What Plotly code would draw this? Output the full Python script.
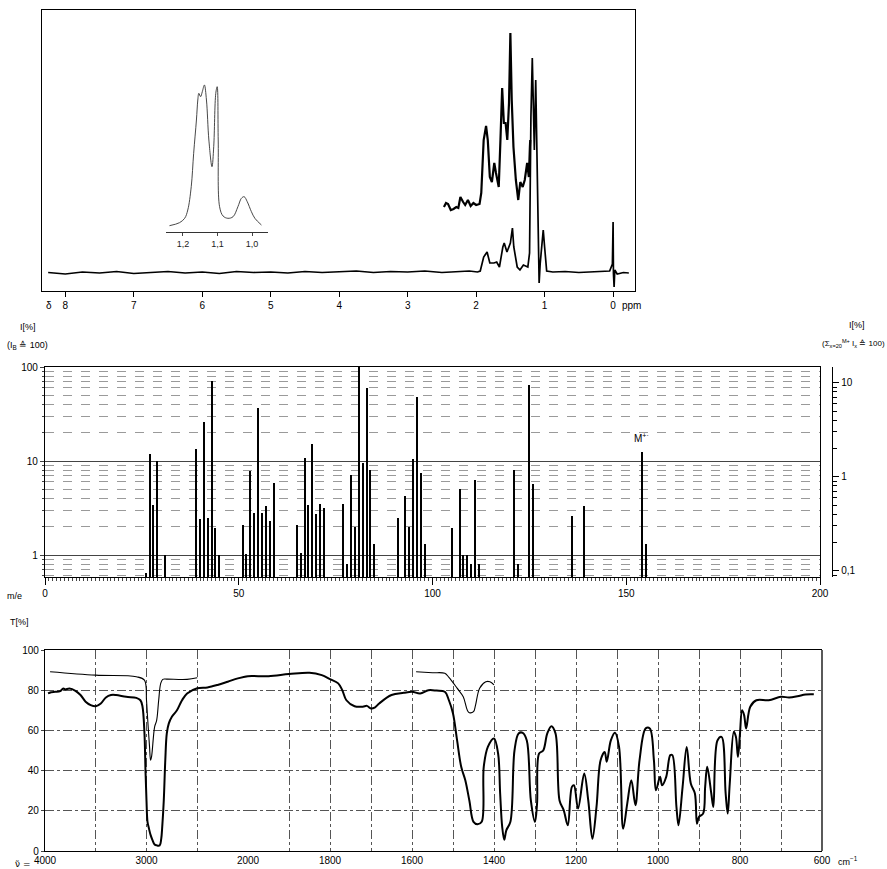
import plotly.graph_objects as go

W, H = 887, 869
def px(x): return x / W
def py(y): return 1 - y / H

FONT = "Liberation Sans, Arial, sans-serif"

# ---------------- 1H-NMR ----------------
nmr_ppm = [8.25, 8.0, 7.75, 7.5, 7.25, 7.0, 6.75, 6.5, 6.25, 6.0, 5.75, 5.5, 5.25, 5.0, 4.75, 4.5,
           4.25, 4.0, 3.75, 3.5, 3.25, 3.0, 2.75, 2.5, 2.25, 2.1, 1.98,
           1.94, 1.89, 1.84, 1.80, 1.74, 1.70, 1.66, 1.61, 1.59, 1.55, 1.50, 1.47, 1.45, 1.40, 1.36,
           1.31, 1.245, 1.22, 1.20, 1.18, 1.16, 1.15, 1.13, 1.11, 1.095, 1.08, 1.065, 1.04, 1.02,
           1.00, 0.97, 0.88, 0.7, 0.5, 0.39, 0.2, 0.05, 0.01, 0.0, -0.005, -0.015, -0.025, -0.06,
           -0.15, -0.23]
nmr_int = [0.5, -1.0, 1.0, 0.0, 1.5, -0.5, 0.5, 1.5, 0.0, 1.0, -0.5, 1.5, 0.5, 1.0, 0.0, 1.5,
           0.5, 1.0, 2.0, 0.5, 1.5, 1.0, 2.0, 0.5, 1.5, 2.0, 1.0,
           2, 16, 21, 10, 10, 11, 6, 26, 30, 21, 30, 45, 26, 6, 3,
           8, 6, 20, 156, 215, 156, 123, 193, 106, 13, -10, 9, 33, 43,
           26, 2, 1, 1.5, 0.5, 1, 1.5, 2, 9, 51, 0, -14, 3, -1,
           0.5, 0]

nmr_up_ppm = [2.47, 2.44, 2.41, 2.37, 2.33, 2.29, 2.26, 2.23, 2.19, 2.16, 2.12, 2.08, 2.04, 2.0,
              1.95, 1.925, 1.89, 1.855, 1.83, 1.80, 1.77, 1.735, 1.71, 1.67, 1.645, 1.62, 1.595,
              1.57, 1.545, 1.52, 1.50, 1.48, 1.455, 1.42, 1.385, 1.355, 1.32, 1.29, 1.255, 1.23,
              1.215, 1.21]
nmr_up_int = [66, 70, 69, 63, 64, 66, 65, 76, 71, 68, 73, 67, 70, 68,
              69, 80, 133, 147, 133, 96, 91, 110, 100, 86, 133, 185, 150,
              150, 133, 170, 240, 173, 126, 93, 73, 91, 86, 93, 110, 96,
              126, 133]

# inset (expanded 1.0-1.25 ppm region)
ins_ppm = [1.239, 1.210, 1.195, 1.186, 1.176, 1.169, 1.161, 1.157, 1.154, 1.149, 1.144, 1.138,
           1.132, 1.125, 1.116, 1.111, 1.105, 1.101, 1.098, 1.094, 1.084, 1.070, 1.055, 1.041,
           1.031, 1.023, 1.014, 1.002, 0.992, 0.973]
ins_int = [6.3, 9.3, 13.7, 22, 45.3, 78.7, 112, 132, 138.7, 135.3, 140.3, 147,
           132, 92, 65.3, 85.3, 138.7, 145.3, 92, 25.3, 16, 13.7, 15.3, 25.3,
           33.7, 35.3, 30.3, 20.3, 13.7, 7]

nmr_ticks = [8, 7, 6, 5, 4, 3, 2, 1, 0]
ins_ticks = [1.2, 1.1, 1.0]
ins_ticktext = ["1,2", "1,1", "1,0"]

# ---------------- Mass spectrum ----------------
ms_mz = [26, 27, 28, 29, 31, 39, 40, 41, 42, 43, 44, 45, 51, 52, 53, 54, 55, 56, 57, 58, 59,
         65, 66, 67, 68, 69, 70, 71, 72, 77, 78, 79, 80, 81, 82, 83, 84, 85,
         91, 93, 94, 95, 96, 97, 98, 105, 107, 108, 109, 110, 111, 112,
         121, 122, 125, 126, 136, 139, 154, 155]
ms_int = [0.65, 11.9, 3.4, 10.0, 1.0, 13.4, 2.4, 26, 2.5, 71, 1.95, 1.0, 2.1, 1.03, 7.9, 2.8, 37, 2.8, 3.3, 2.3, 5.9,
          2.1, 1.05, 10.8, 3.4, 15, 2.7, 3.5, 3.2, 3.5, 0.8, 7.1, 2.0, 100, 9.5, 60, 8.0, 1.3,
          2.45, 4.2, 2.0, 10.5, 48, 7.5, 1.3, 1.95, 5.0, 1.0, 1.0, 0.8, 6.3, 0.8,
          8.0, 0.8, 64, 5.7, 2.6, 3.3, 12.5, 1.3]
ms_xticks = [0, 50, 100, 150, 200]
ms_left_ticks = [1, 10, 100]
ms_right_ticks = [0.1, 1, 10]
ms_right_text = ["0,1", "1", "10"]
ms_ratio_log = 0.8325  # log10 of (base-peak % / total-ion %)

# ---------------- IR spectrum ----------------
ir_wn = [3970, 3940, 3900, 3850, 3820, 3800, 3760, 3700, 3650, 3600, 3550, 3500, 3450, 3400,
         3350, 3300, 3200, 3100, 3060, 3040, 3020, 3010, 3000, 2990, 2975, 2960, 2940, 2920,
         2900, 2870, 2855, 2845, 2830, 2815, 2800, 2780, 2750, 2700, 2650, 2600, 2500, 2400,
         2300, 2200, 2100, 2000,
         1950, 1900, 1850, 1820, 1800, 1780, 1770, 1760, 1740, 1720, 1710, 1700, 1690, 1680,
         1650, 1620, 1600, 1580, 1560, 1540, 1520, 1510, 1500, 1490, 1480, 1470, 1460, 1450,
         1440, 1430, 1425, 1415, 1400, 1390, 1385, 1380, 1375, 1370, 1360, 1350, 1340, 1330,
         1320, 1310, 1300, 1295, 1290, 1280, 1270, 1260, 1250, 1240, 1230, 1220, 1210, 1205,
         1195, 1180, 1170, 1160, 1150, 1140, 1130, 1125, 1115, 1105, 1095, 1085, 1075, 1065,
         1055, 1045, 1030, 1020, 1010, 1005, 995, 990, 980, 970, 965, 955, 950, 940, 930, 920,
         910, 905, 900, 890, 885, 880, 870, 865, 855, 845, 835, 830, 825, 815, 810, 805, 800,
         795, 790, 785, 775, 760, 730, 700, 680, 660, 640, 620]
ir_t = [78.4, 79.0, 79.2, 79.5, 80.9, 80.4, 80.8, 79.7, 77.6, 74.3, 72.6, 72.0, 73.4, 76.4,
        77.6, 77.6, 76.7, 76.2, 75.0, 72.0, 58.5, 40.0, 25.0, 14.5, 11.0, 8.0, 5.3, 3.2,
        2.8, 2.8, 6.0, 12.0, 25.0, 45.0, 58.5, 63.5, 66.8, 70.0, 75.0, 78.4, 81.0, 81.4,
        82.6, 84.2, 85.9, 87.0,
        87.0, 88.0, 88.7, 87.5, 85.5, 83.4, 80.0, 75.0, 72.0, 71.8, 72.2, 70.9, 71.5, 73.4,
        77.6, 78.7, 79.2, 78.4, 80.0, 79.8, 79.2, 75.0, 68.4, 55.0, 41.9, 35.2, 25.0, 14.5,
        13.3, 14.5, 41.9, 51.8, 56.0, 48.5, 28.6, 12.0, 5.6, 10.3, 14.5, 50.0, 58.5, 58.8,
        55.0, 25.0, 14.5, 23.6, 48.5, 50.0, 58.5, 62.1, 58.5, 25.0, 20.3, 12.8, 31.9, 32.7,
        21.1, 38.5, 25.0, 6.1, 21.9, 45.2, 49.3, 44.4, 55.0, 58.8, 51.8, 11.1, 23.6, 35.2,
        22.8, 45.2, 61.0, 61.0, 45.2, 30.2, 36.9, 32.7, 36.9, 47.7, 47.7, 21.9, 12.8, 31.9, 51.8, 33.6,
        28.6, 13.6, 17.0, 18.6, 31.9, 41.9, 28.6, 21.9, 55.0, 56.8, 28.6, 18.6, 33.6, 59.3, 56.8, 46.8, 58.5,
        70.0, 67.6, 61.0, 71.8, 75.0, 75.0, 76.7, 76.4, 77.0, 77.9, 78.0]

ir2_wn = [3950, 3500, 3100, 3020, 3000, 2990, 2970, 2960, 2950, 2920, 2900, 2880, 2860, 2840,
          2800, 2600, 2500, None,
          1590, 1550, 1520, 1510, 1490, 1475, 1465, 1460, 1450, 1445, 1435, 1420, 1410, 1400]
ir2_t = [89.2, 87.5, 86.7, 85.0, 75.0, 66.8, 51.8, 45.2, 47.0, 61.8, 65.0, 75.0, 83.4, 85.4,
         85.5, 85.4, 86.2, None,
         89.2, 88.7, 88.4, 86.4, 81.0, 76.7, 70.0, 68.8, 69.3, 72.6, 81.0, 84.2, 84.2, 82.6]

ir_hi_ticks = [4000, 3000, 2000]
ir_lo_ticks = [1800, 1600, 1400, 1200, 1000, 800, 600]

# ---------------- figure ----------------
fig = go.Figure()
BL = "black"
fig.add_trace(go.Scatter(x=nmr_ppm, y=nmr_int, mode="lines", line=dict(color=BL, width=1.7),
                         xaxis="x", yaxis="y", showlegend=False))
fig.add_trace(go.Scatter(x=nmr_up_ppm, y=nmr_up_int, mode="lines", line=dict(color=BL, width=2.2),
                         xaxis="x", yaxis="y", showlegend=False))
fig.add_trace(go.Scatter(x=ins_ppm, y=ins_int, mode="lines", line=dict(color="#333", width=0.9),
                         line_shape="spline", xaxis="x2", yaxis="y2", showlegend=False))
fig.add_trace(go.Bar(x=ms_mz, y=ms_int, width=0.32, marker=dict(color=BL, line=dict(width=0)),
                     xaxis="x3", yaxis="y3", showlegend=False))
fig.add_trace(go.Scatter(x=[None], y=[None], xaxis="x3", yaxis="y4", showlegend=False))
for xa in ("x4", "x5"):
    fig.add_trace(go.Scatter(x=ir_wn, y=ir_t, mode="lines", line=dict(color=BL, width=2),
                             line_shape="spline", xaxis=xa, yaxis="y5", showlegend=False))
    fig.add_trace(go.Scatter(x=ir2_wn, y=ir2_t, mode="lines", line=dict(color=BL, width=1.1),
                             line_shape="spline", xaxis=xa, yaxis="y5", showlegend=False,
                             connectgaps=False))

tf = dict(family=FONT, size=10, color=BL)
grid_ir = dict(showgrid=True, gridcolor="#555", gridwidth=1, griddash="dashdot")

fig.update_layout(
    width=W, height=H, margin=dict(l=0, r=0, t=0, b=0, autoexpand=False),
    paper_bgcolor="white", plot_bgcolor="white", font=tf, bargap=0,
    xaxis=dict(domain=[px(42), px(635)], anchor="y", range=[8.34, -0.32], automargin=False,
               tickmode="array", tickvals=nmr_ticks, ticktext=[str(t) for t in nmr_ticks],
               ticks="outside", ticklen=5, tickcolor=BL, showline=True, mirror=True,
               linecolor=BL, linewidth=1.3, showgrid=False, zeroline=False, tickfont=tf),
    yaxis=dict(domain=[py(291), py(10)], anchor="x", range=[-18, 263], showticklabels=False,
               automargin=False, ticks="", showline=True, mirror=True, linecolor=BL,
               linewidth=1.3, showgrid=False, zeroline=False),
    xaxis2=dict(domain=[px(166), px(268)], anchor="y2", range=[1.249, 0.954], automargin=False,
                tickmode="array", tickvals=ins_ticks, ticktext=ins_ticktext,
                ticks="outside", ticklen=3, showline=True, linecolor="#333", linewidth=1,
                showgrid=False, zeroline=False, tickfont=dict(family=FONT, size=9, color="#222")),
    yaxis2=dict(domain=[py(232), py(80)], anchor="x2", range=[0, 152], visible=False,
                automargin=False),
    xaxis3=dict(domain=[px(45), px(820)], anchor="y3", range=[0, 200], automargin=False,
                tickmode="array", tickvals=ms_xticks, ticktext=[str(v) for v in ms_xticks],
                ticks="outside", ticklen=7, tickcolor=BL,
                minor=dict(dtick=1, tick0=0, ticks="outside", ticklen=3, tickcolor="#444"),
                showline=True, mirror=True, linecolor=BL, linewidth=1.3,
                showgrid=False, zeroline=False, tickfont=tf),
    yaxis3=dict(domain=[py(577), py(367)], anchor="x3", type="log", range=[-0.234, 2.0],
                automargin=False,
                tickmode="array", tickvals=ms_left_ticks, ticktext=[str(v) for v in ms_left_ticks],
                ticks="outside", ticklen=4, showline=True, mirror=True, linecolor=BL,
                linewidth=1.3, showgrid=True, gridcolor="#444", gridwidth=1,
                minor=dict(dtick="D1", ticks="outside", ticklen=2, showgrid=True,
                           gridcolor="#9a9a9a", griddash="dash", gridwidth=1),
                zeroline=False, tickfont=tf),
    yaxis4=dict(overlaying="y3", side="right", anchor="free", position=px(832), type="log",
                range=[-0.234 - ms_ratio_log, 2.0 - ms_ratio_log], automargin=False,
                tickmode="array", tickvals=ms_right_ticks, ticktext=ms_right_text,
                ticks="outside", ticklen=6, tickcolor=BL,
                minor=dict(dtick="D1", ticks="outside", ticklen=4, tickcolor=BL),
                showline=True, linecolor=BL, linewidth=1.3, showgrid=False, zeroline=False,
                tickfont=tf),
    xaxis4=dict(domain=[px(45), px(248)], anchor="y5", range=[4000, 2000], automargin=False,
                tickmode="array", tickvals=ir_hi_ticks, ticktext=[str(v) for v in ir_hi_ticks],
                ticks="", minor=dict(dtick=500, tick0=0, showgrid=True, gridcolor="#555",
                                     griddash="dashdot", ticks=""),
                showline=True, mirror=True, linecolor=BL, linewidth=1.3, zeroline=False,
                tickfont=tf, **grid_ir),
    xaxis5=dict(domain=[px(248), px(822)], anchor="y5", range=[2000, 600], automargin=False,
                tickmode="array", tickvals=ir_lo_ticks, ticktext=[str(v) for v in ir_lo_ticks],
                ticks="", minor=dict(dtick=100, tick0=0, showgrid=True, gridcolor="#555",
                                     griddash="dashdot", ticks=""),
                showline=True, mirror=True, linecolor=BL, linewidth=1.3, zeroline=False,
                tickfont=tf, **grid_ir),
    yaxis5=dict(domain=[py(851), py(650)], anchor="x4", range=[0, 100], automargin=False,
                tickmode="array", tickvals=[0, 20, 40, 60, 80, 100], ticks="outside", ticklen=3,
                showline=True, linecolor=BL, linewidth=1.3, zeroline=False, tickfont=tf,
                **grid_ir),
)

# right border of IR panel
fig.add_shape(type="line", xref="paper", yref="paper", x0=px(822), x1=px(822),
              y0=py(851), y1=py(650), line=dict(color=BL, width=1.3))

ann = [
    dict(x=px(49), y=py(305), text="δ", xanchor="center"),
    dict(x=px(620), y=py(305), text="ppm", xanchor="left"),
    dict(x=px(28), y=py(327), text="I[%]", xanchor="center", size=9),
    dict(x=px(27), y=py(345), text="(I<sub>B</sub> ≙ 100)", xanchor="center", size=9),
    dict(x=px(857), y=py(325), text="I[%]", xanchor="center", size=9),
    dict(x=px(853), y=py(344), text="(Σ<sub>x=20</sub><sup>M+</sup> I<sub>x</sub> ≙ 100)",
         xanchor="center", size=8),
    dict(x=px(14), y=py(596), text="m/e", xanchor="center", size=9),
    dict(x=px(19), y=py(622), text="T[%]", xanchor="center", size=9),
    dict(x=px(32), y=py(864), text="ν̃ =", xanchor="right", family="DejaVu Sans", size=9),
    dict(x=px(836), y=py(861), text="cm<sup>−1</sup>", xanchor="left", size=9),
]
for a in ann:
    fig.add_annotation(x=a["x"], y=a["y"], xref="paper", yref="paper", text=a["text"],
                       showarrow=False, xanchor=a["xanchor"], yanchor="middle",
                       font=dict(family=a.get("family", FONT), size=a.get("size", 10), color=BL))

fig.add_annotation(x=81, y=2.04, xref="x3", yref="y3", text="*", showarrow=False,
                   yanchor="bottom", font=dict(family=FONT, size=12, color=BL))
fig.add_annotation(x=154, y=1.16, xref="x3", yref="y3", text="M<sup>+·</sup>", showarrow=False,
                   yanchor="bottom", font=dict(family=FONT, size=10, color=BL))

fig.write_html("out.html")
